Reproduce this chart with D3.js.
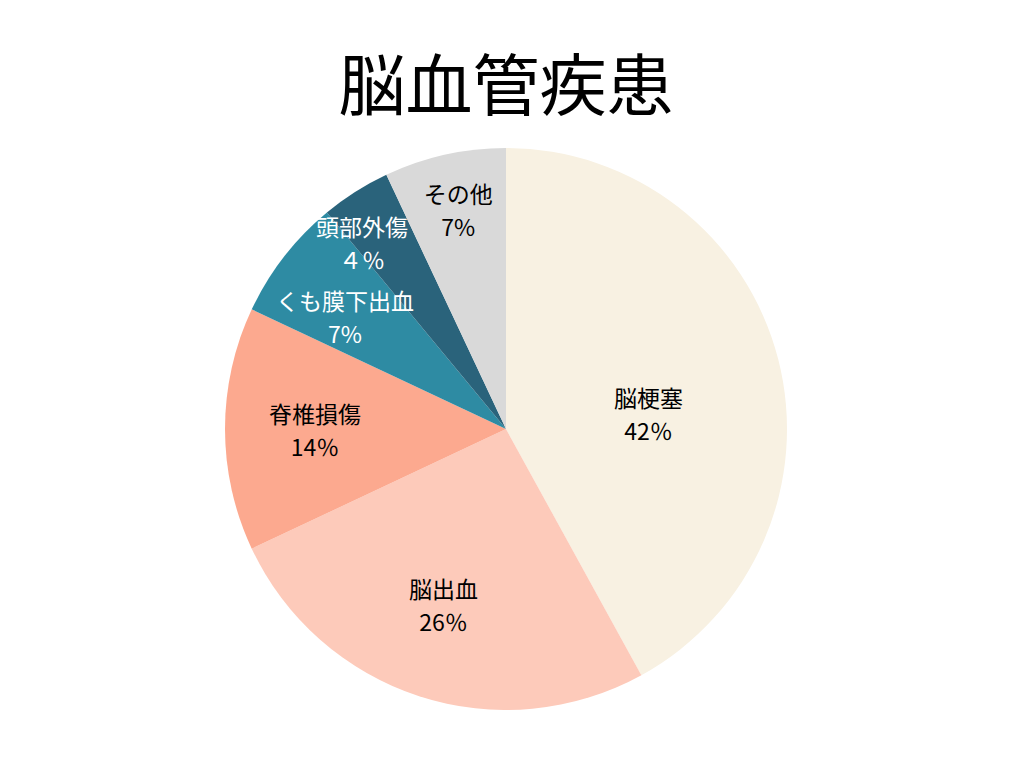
<!DOCTYPE html>
<html><head><meta charset="utf-8">
<script src="https://cdn.jsdelivr.net/npm/d3@7"></script>
<style>html,body{margin:0;padding:0;background:#fff;}</style>
</head><body>
<svg id="chart" width="1024" height="768"></svg>
<script>
const title = "脳血管疾患";
const categories = ["脳梗塞", "脳出血", "脊椎損傷", "くも膜下出血", "頭部外傷", "その他"];
const values = [42, 26, 14, 7, 4, 7];
const valueLabels = ["42％", "26％", "14％", "7%", "４％", "7%"];
const colors = ["#F8F1E2", "#FDCABA", "#FCA98F", "#2E8BA3", "#2A637B", "#D9D9D9"];
const textColors = ["#000", "#000", "#000", "#fff", "#fff", "#000"];
// label placement (layout): radius fraction and angle offset (deg) from slice middle
const labelRadius = [0.51, 0.66, 0.68, 0.70, 0.84, 0.80];
const labelAngleShift = [8, 1.7, 0, -2.8, -5.2, 0.3];

const svg = d3.select("#chart");
const font = "'Noto Sans CJK JP', 'Noto Sans', sans-serif";
svg.append("text").attr("x", 506).attr("y", 80)
  .attr("text-anchor", "middle").attr("dominant-baseline", "central")
  .attr("font-family", font).attr("font-size", 67).attr("fill", "#000").text(title);

const cx = 506, cy = 429, R = 281;
const g = svg.append("g").attr("transform", `translate(${cx},${cy})`);
const pie = d3.pie().value(d => d).sort(null);
const arcs = pie(values);
const arc = d3.arc().innerRadius(0).outerRadius(R);
g.selectAll("path").data(arcs).join("path")
  .attr("d", arc).attr("fill", (d, i) => colors[i]);

arcs.forEach((d, i) => {
  const a = (d.startAngle + d.endAngle) / 2 + labelAngleShift[i] * Math.PI / 180;
  const r = R * labelRadius[i];
  const x = Math.sin(a) * r, y = -Math.cos(a) * r;
  const t = g.append("text").attr("text-anchor", "middle")
    .attr("font-family", font).attr("font-size", 23).attr("fill", textColors[i]);
  t.append("tspan").attr("x", x).attr("y", y - 16).attr("dominant-baseline", "central").text(categories[i]);
  t.append("tspan").attr("x", x).attr("y", y + 17).attr("dominant-baseline", "central").text(valueLabels[i]);
});
</script>
</body></html>
